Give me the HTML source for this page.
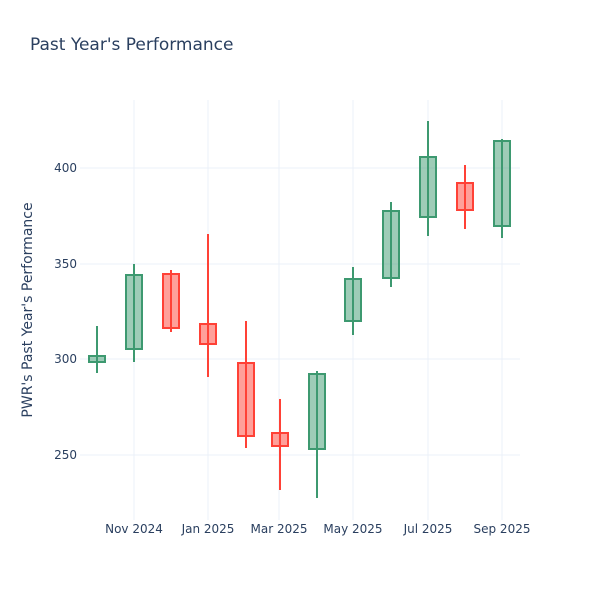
<!DOCTYPE html>
<html><head><style>body{margin:0;background:#fff}svg{font-family:"DejaVu Sans",sans-serif}</style></head>
<body><svg width="600" height="600" xmlns="http://www.w3.org/2000/svg">
<rect width="600" height="600" fill="#fff"/>
<text x="30" y="50" font-size="17" fill="#2a3f5f">Past Year's Performance</text>
<g stroke="#ebf0f8" stroke-width="1">
<line x1="80" x2="520" y1="168" y2="168"/><line x1="80" x2="520" y1="264" y2="264"/>
<line x1="80" x2="520" y1="359" y2="359"/><line x1="80" x2="520" y1="455" y2="455"/>
<line x1="134" x2="134" y1="100" y2="520"/><line x1="208" x2="208" y1="100" y2="520"/>
<line x1="279" x2="279" y1="100" y2="520"/><line x1="353" x2="353" y1="100" y2="520"/>
<line x1="428" x2="428" y1="100" y2="520"/><line x1="502" x2="502" y1="100" y2="520"/>
</g>
<g font-size="12" fill="#2a3f5f" text-anchor="end">
<text x="77" y="172">400</text><text x="77" y="268">350</text><text x="77" y="363">300</text><text x="77" y="459">250</text>
</g>
<g font-size="12" fill="#2a3f5f" text-anchor="middle">
<text x="134" y="533">Nov 2024</text><text x="208" y="533">Jan 2025</text><text x="279" y="533">Mar 2025</text>
<text x="353" y="533">May 2025</text><text x="428" y="533">Jul 2025</text><text x="502" y="533">Sep 2025</text>
</g>
<text transform="translate(32,310) rotate(-90)" font-size="14" fill="#2a3f5f" text-anchor="middle">PWR's Past Year's Performance</text>
<g stroke-width="2">
<g stroke="#3D9970" fill="rgba(61,153,112,0.5)">
<line x1="97" x2="97" y1="326" y2="373"/><rect x="89" y="356" width="16" height="6"/>
<line x1="134" x2="134" y1="264" y2="362"/><rect x="126" y="275" width="16" height="74"/>
<line x1="317" x2="317" y1="371" y2="498"/><rect x="309" y="374" width="16" height="75"/>
<line x1="353" x2="353" y1="267" y2="335"/><rect x="345" y="279" width="16" height="42"/>
<line x1="391" x2="391" y1="202" y2="287"/><rect x="383" y="211" width="16" height="67"/>
<line x1="428" x2="428" y1="121" y2="236"/><rect x="420" y="157" width="16" height="60"/>
<line x1="502" x2="502" y1="139" y2="238"/><rect x="494" y="141" width="16" height="85"/>
</g>
<g stroke="#FF4136" fill="rgba(255,65,54,0.5)">
<line x1="171" x2="171" y1="270" y2="332"/><rect x="163" y="274" width="16" height="54"/>
<line x1="208" x2="208" y1="234" y2="377"/><rect x="200" y="324" width="16" height="20"/>
<line x1="246" x2="246" y1="321" y2="448"/><rect x="238" y="363" width="16" height="73"/>
<line x1="280" x2="280" y1="399" y2="490"/><rect x="272" y="433" width="16" height="13"/>
<line x1="465" x2="465" y1="165" y2="229"/><rect x="457" y="183" width="16" height="27"/>
</g>
</g>
</svg></body></html>
